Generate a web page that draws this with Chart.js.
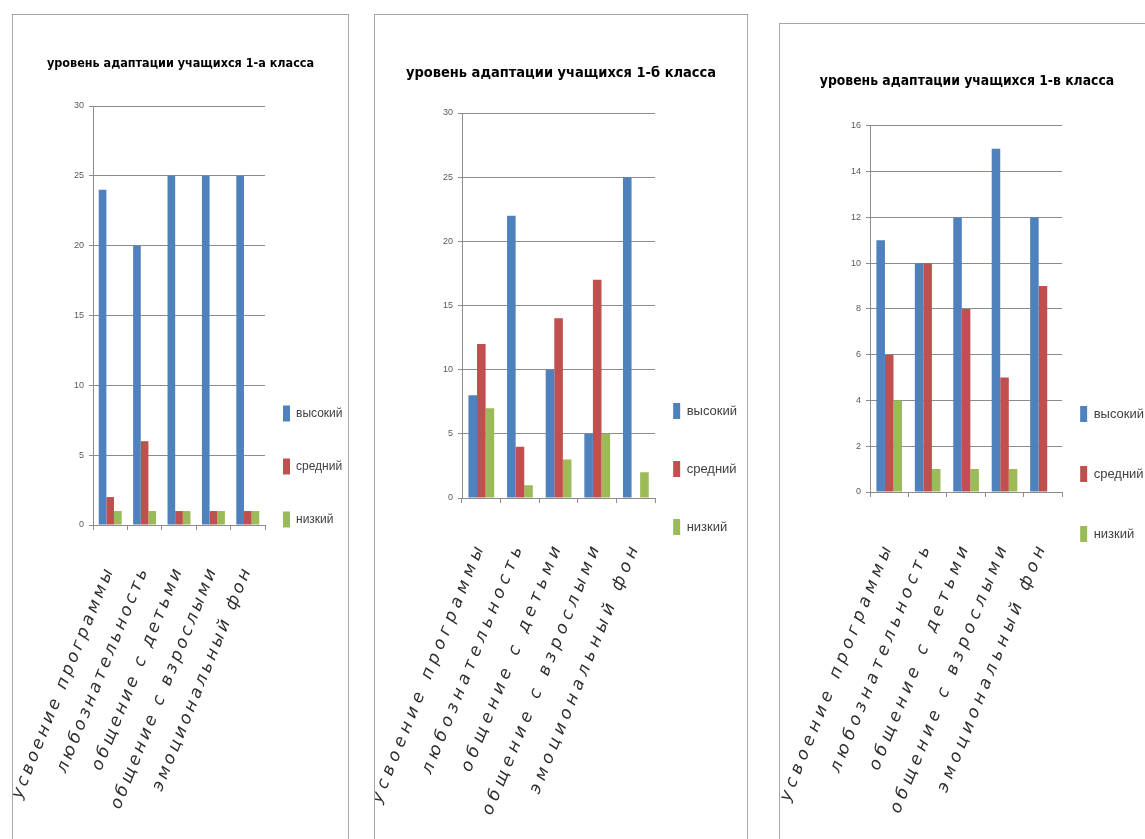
<!DOCTYPE html>
<html lang="ru">
<head>
<meta charset="utf-8">
<script src="https://cdn.jsdelivr.net/npm/chart.js@4.4.1/dist/chart.umd.min.js"></script>
<style>
  body { margin: 0; background: #fff; width: 1145px; height: 839px; overflow: hidden; position: relative; }
  .panel { position: absolute; border: 1px solid #a6a6a6; background: #fff; }
  .panel canvas { display: block; }
  #p1 { left: 12px; top: 14px; }
  #p2 { left: 374px; top: 14px; }
  #p3 { left: 779px; top: 23px; }
</style>
</head>
<body>
<div class="panel" id="p1"><canvas id="c1" width="335" height="922"></canvas></div>
<div class="panel" id="p2"><canvas id="c2" width="372" height="932"></canvas></div>
<div class="panel" id="p3"><canvas id="c3" width="374" height="926"></canvas></div>
<script>
// категории и серии
const categories = ["усвоение программы", "любознательность", "общение с детьми", "общение с взрослыми", "эмоциональный фон"];
const seriesNames = ["высокий", "средний", "низкий"];

// 1-а класс
const highA = [24, 20, 25, 25, 25];
const midA = [2, 6, 1, 1, 1];
const lowA = [1, 1, 1, 1, 1];

// 1-б класс
const highB = [8, 22, 10, 5, 25];
const midB = [12, 4, 14, 17, 0];
const lowB = [7, 1, 3, 5, 2];

// 1-в класс
const highV = [11, 10, 12, 15, 12];
const midV = [6, 10, 8, 5, 9];
const lowV = [4, 1, 1, 1, 0];

const seriesColors = ["#4f81bd", "#c0504d", "#9bbb59"];

// разрядка подписей оси X (они рисуются после столбцов, z: 1)
function labelSpacing(px) {
  return {
    id: "labelSpacing",
    afterDatasetsDraw(chart) { chart.ctx.letterSpacing = px + "px"; },
    afterDraw(chart) { chart.ctx.letterSpacing = "0px"; }
  };
}

function drawChart(id, title, high, mid, low, yMax, yStep, g) {
  const ctx = document.getElementById(id).getContext("2d");
  new Chart(ctx, {
    type: "bar",
    data: {
      labels: categories,
      datasets: [
        { label: seriesNames[0], data: high, backgroundColor: seriesColors[0] },
        { label: seriesNames[1], data: mid, backgroundColor: seriesColors[1] },
        { label: seriesNames[2], data: low, backgroundColor: seriesColors[2] },
      ],
    },
    options: {
      responsive: false,
      animation: false,
      layout: { padding: 0 },
      datasets: { bar: { categoryPercentage: 0.667, barPercentage: 1 } },
      plugins: {
        title: {
          display: true,
          text: title,
          color: "#000",
          font: { family: "'DejaVu Sans Condensed', sans-serif", weight: "bold", size: g.titleSize },
          padding: { top: g.titleTop, bottom: g.titleBottom },
        },
        legend: {
          position: "right",
          maxWidth: g.legendWidth,
          labels: {
            boxWidth: 7,
            boxHeight: 16,
            padding: 18,
            color: "#404040",
            font: { family: "'Liberation Sans', sans-serif", size: g.legendSize, lineHeight: g.legendStep + "px" },
            generateLabels(chart) {
              return Chart.defaults.plugins.legend.labels.generateLabels(chart)
                .map((item) => Object.assign(item, { text: [item.text] }));
            },
          },
        },
        tooltip: { enabled: false },
      },
      scales: {
        x: {
          grid: { drawOnChartArea: false, tickLength: 5, color: "#8c8c8c" },
          border: { color: "#8c8c8c" },
          ticks: {
            autoSkip: false,
            minRotation: 68,
            maxRotation: 68,
            padding: g.labelPad,
            z: 1,
            color: "#2e2e2e",
            font: { family: "'DejaVu Sans', sans-serif", style: "italic", size: 17 },
          },
          afterFit(scale) {
            scale.height = g.axisHeight;
            scale.paddingLeft = 0;
            scale.paddingRight = 0;
          },
        },
        y: {
          min: 0,
          max: yMax,
          ticks: { stepSize: yStep, color: "#595959", font: { family: "'Liberation Sans', sans-serif", size: 9 }, padding: 5 },
          grid: { color: "#8c8c8c", tickLength: 4 },
          border: { color: "#8c8c8c" },
          afterFit(scale) { scale.width = g.yWidth; },
        },
      },
    },
    plugins: [labelSpacing(g.spacing)],
  });
}

drawChart("c1", "уровень адаптации учащихся 1-а класса", highA, midA, lowA, 30, 5, {
  yWidth: 80, titleSize: 12.5, titleTop: 41.5, titleBottom: 34.5, legendWidth: 83, legendSize: 12,
  legendStep: 35, labelPad: 33, axisHeight: 412, spacing: 3.3,
});
drawChart("c2", "уровень адаптации учащихся 1-б класса", highB, midB, lowB, 30, 5, {
  yWidth: 87, titleSize: 14.5, titleTop: 49.3, titleBottom: 31.3, legendWidth: 92, legendSize: 13,
  legendStep: 40, labelPad: 36, axisHeight: 449, spacing: 5,
});
drawChart("c3", "уровень адаптации учащихся 1-в класса", highV, midV, lowV, 16, 2, {
  yWidth: 90, titleSize: 13.8, titleTop: 48.7, titleBottom: 36.7, legendWidth: 92, legendSize: 13,
  legendStep: 42, labelPad: 42, axisHeight: 458, spacing: 4.9,
});
</script>
</body>
</html>
